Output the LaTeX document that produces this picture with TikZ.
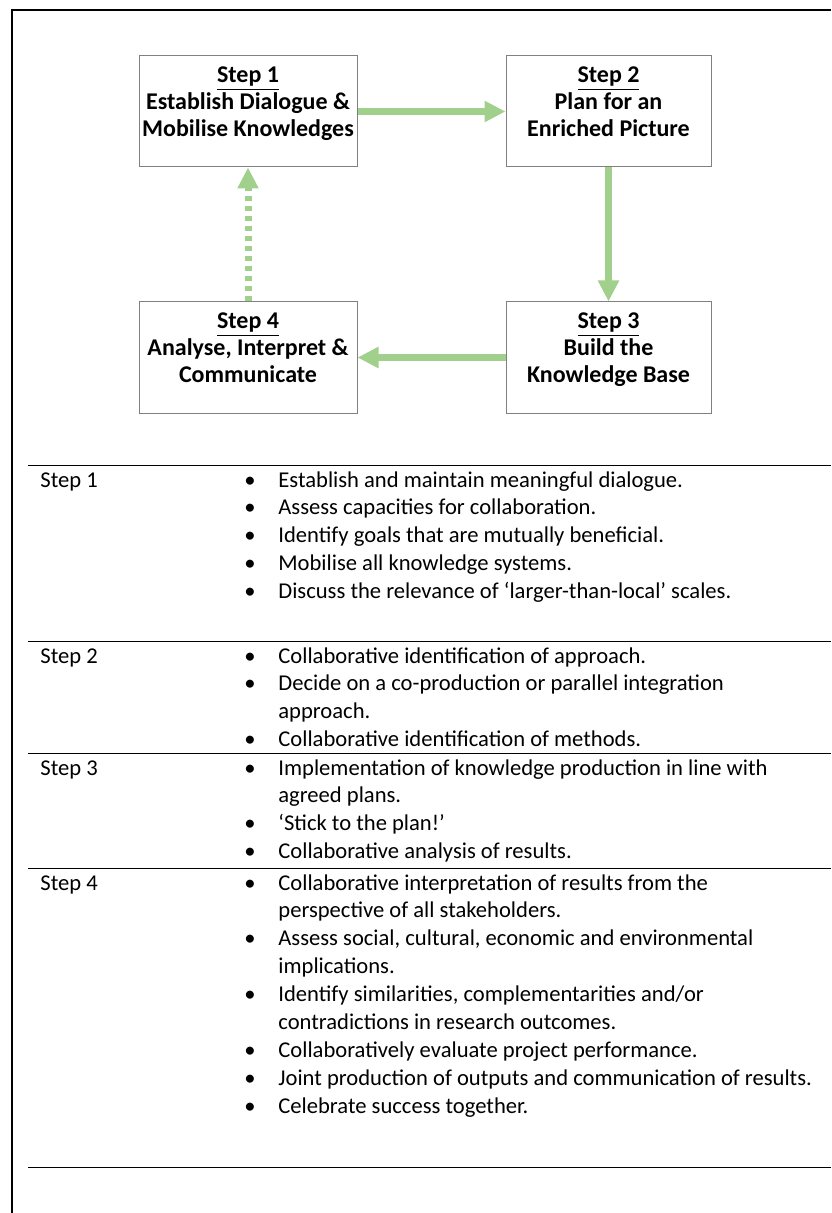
\documentclass[tikz,border=0pt]{standalone}
\usepackage{fontspec}
\setmainfont{Carlito}
\usepackage{tikz}
\usetikzlibrary{arrows.meta}

\definecolor{stepgreen}{RGB}{160,208,140}
\definecolor{boxgray}{RGB}{128,128,128}

\tikzset{
  stepbox/.style={draw=boxgray, line width=0.5pt, minimum height=55.5pt, inner sep=0pt},
  steptitle/.style={font=\bfseries\fontsize{12}{13.5}\selectfont, anchor=base, inner sep=0pt},
  flow/.style={draw=stepgreen, line width=3.5pt, -{Triangle[length=10.5pt,width=10pt]}},
  flowdash/.style={flow, dash pattern=on 2.5pt off 2.5pt},
  rowtext/.style={font=\fontsize{11.3}{13.95}\selectfont, anchor=base west, inner sep=0pt},
}

\begin{document}
\begin{tikzpicture}[x=0.5pt,y=-0.5pt]
\useasboundingbox (0,0) rectangle (831,1213);

% frame
\draw[line width=0.7pt] (12,1213) -- (12,10) -- (831,10);

% the cycle
\node[stepbox, minimum width=109pt] (s1) at (248,111.5) {};
\node[stepbox, minimum width=102.5pt] (s2) at (608.5,111.5) {};
\node[stepbox, minimum width=102.5pt] (s3) at (608.5,357.5) {};
\node[stepbox, minimum width=109pt] (s4) at (248,357.5) {};

\node[steptitle] (t1) at ([yshift=-13.5pt]s1.north)
  {\begin{tabular}[t]{@{}c@{}}\underline{Step 1}\\Establish Dialogue \&\\Mobilise Knowledges\end{tabular}};
\node[steptitle] (t2) at ([yshift=-13.5pt]s2.north)
  {\begin{tabular}[t]{@{}c@{}}\underline{Step 2}\\Plan for an\\Enriched Picture\end{tabular}};
\node[steptitle] (t3) at ([yshift=-13.5pt]s3.north)
  {\begin{tabular}[t]{@{}c@{}}\underline{Step 3}\\Build the\\Knowledge Base\end{tabular}};
\node[steptitle] (t4) at ([yshift=-13.5pt]s4.north)
  {\begin{tabular}[t]{@{}c@{}}\underline{Step 4}\\Analyse, Interpret \&\\Communicate\end{tabular}};

\draw[flow] (s1) -- (s2);
\draw[flow] (s2) -- (s3);
\draw[flow] (s3) -- (s4);
\draw[flowdash] (s4) -- (s1);

% table
\foreach \y in {465,641,753,868,1167}
  \draw[line width=0.5pt] (28,\y) -- (831,\y);

\foreach \n/\y in {1/487,2/663,3/775,4/890}
  \node[rowtext] (l\n) at (40,\y) {Step \n};

\node[rowtext] (b1) at (244,487) {\begin{tabular}[t]{@{}p{17pt}@{}l@{}}
\textbullet & Establish and maintain meaningful dialogue.\\
\textbullet & Assess capacities for collaboration.\\
\textbullet & Identify goals that are mutually beneficial.\\
\textbullet & Mobilise all knowledge systems.\\
\textbullet & Discuss the relevance of `larger-than-local' scales.
\end{tabular}};
\node[rowtext] (b2) at (244,663) {\begin{tabular}[t]{@{}p{17pt}@{}l@{}}
\textbullet & Collaborative identification of approach.\\
\textbullet & Decide on a co-production or parallel integration\\
 & approach.\\
\textbullet & Collaborative identification of methods.
\end{tabular}};
\node[rowtext] (b3) at (244,775) {\begin{tabular}[t]{@{}p{17pt}@{}l@{}}
\textbullet & Implementation of knowledge production in line with\\
 & agreed plans.\\
\textbullet & `Stick to the plan!'\\
\textbullet & Collaborative analysis of results.
\end{tabular}};
\node[rowtext] (b4) at (244,890) {\begin{tabular}[t]{@{}p{17pt}@{}l@{}}
\textbullet & Collaborative interpretation of results from the\\
 & perspective of all stakeholders.\\
\textbullet & Assess social, cultural, economic and environmental\\
 & implications.\\
\textbullet & Identify similarities, complementarities and/or\\
 & contradictions in research outcomes.\\
\textbullet & Collaboratively evaluate project performance.\\
\textbullet & Joint production of outputs and communication of results.\\
\textbullet & Celebrate success together.
\end{tabular}};
\end{tikzpicture}
\end{document}
